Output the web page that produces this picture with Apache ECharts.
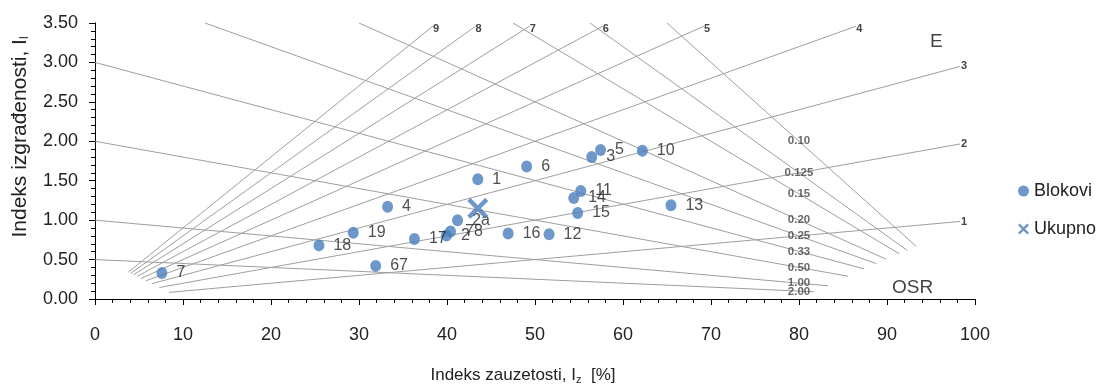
<!DOCTYPE html>
<html>
<head>
<meta charset="utf-8">
<script src="https://cdn.jsdelivr.net/npm/echarts@6/dist/echarts.min.js"></script>
<style>html,body{margin:0;padding:0;background:#fff}#c{width:1100px;height:385px}</style>
</head>
<body>
<div id="c"></div>
<script>
// ---- data ----
var blockNames = ['1','6','3','5','10','11','14','15','13','4','2a','2','78','17','16','12','19','18','67','7'];
var blockX = [43.5, 49.05, 56.45, 57.45, 62.2, 55.2, 54.4, 54.85, 65.45, 33.25, 41.2, 39.94, 40.4, 36.3, 46.95, 51.6, 29.35, 25.45, 31.9, 7.6];
var blockY = [1.52, 1.68, 1.80, 1.89, 1.88, 1.37, 1.28, 1.09, 1.19, 1.17, 1.00, 0.805, 0.855, 0.76, 0.83, 0.82, 0.84, 0.68, 0.42, 0.33];
var totalX = [43.5];
var totalY = [1.15];

// floor-count reference lines (labels 1..9): start and end points
var floorLabels = ['1','2','3','4','5','6','7','8','9'];
var floorStart = [[8.4,0.084],[7.3,0.146],[6.45,0.194],[5.8,0.232],[5.2,0.26],[4.8,0.288],[4.4,0.308],[4.05,0.324],[3.8,0.342]];
var floorEnd = [[98.3,0.983],[98.3,1.966],[98.3,2.949],[86.5,3.46],[69.2,3.46],[57.7,3.46],[49.4,3.46],[43.25,3.46],[38.4,3.46]];

// OSR reference lines: start and end points, label positions
var osrLabels = ['0.10','0.125','0.15','0.20','0.25','0.33','0.50','1.00','2.00'];
var osrStart = [[65,3.5],[56.25,3.5],[47.5,3.5],[30,3.5],[12.5,3.5],[0,3.0],[0,2.0],[0,1.0],[0,0.5]];
var osrEnd = [[93.3,0.67],[92.3,0.616],[91.4,0.573],[89.9,0.505],[88.8,0.448],[87.4,0.382],[85.6,0.288],[83.3,0.167],[81.7,0.092]];
var osrLabelX = [80,80,80,80,80,80,80,80,80];
var osrLabelY = [2.0,1.6,1.33,1.0,0.8,0.6,0.4,0.2,0.085];

// region annotations
var noteTexts = ['E','OSR'];
var noteX = [95.6, 92.9];
var noteY = [3.26, 0.14];

var xTicks = {min:0, max:100, interval:10};
var yTicks = {min:0, max:3.5, interval:0.5};

// ---- chart ----
var BLUE = '#4a7ebb';
var LINE = '#9e9e9e';
var FONT = 'Liberation Sans, Arial, sans-serif';
var xPath = 'path://M0,1.5L1.5,0L5,3.5L8.5,0L10,1.5L6.5,5L10,8.5L8.5,10L5,6.5L1.5,10L0,8.5L3.5,5Z';

var series = [];
floorLabels.forEach(function(lab, i){
  series.push({
    type:'line', silent:true, symbol:'none', z:1,
    data:[floorStart[i], floorEnd[i]],
    lineStyle:{color:LINE, width:1},
    endLabel:{show:true, formatter:lab, fontSize:11, fontWeight:'bold', color:'#444', fontFamily:FONT,
      distance:1, offset: i < 3 ? [0,0] : [-1,3]}
  });
});
osrLabels.forEach(function(lab, i){
  series.push({
    type:'line', silent:true, symbol:'none', z:1,
    data:[osrStart[i], osrEnd[i]],
    lineStyle:{color:LINE, width:1}
  });
});
series.push({
  type:'scatter', silent:true, symbolSize:1, z:3,
  itemStyle:{color:'rgba(0,0,0,0)'},
  data: osrLabels.map(function(l,i){ return [osrLabelX[i], osrLabelY[i], l]; }),
  label:{show:true, position:'inside', formatter:function(p){return p.value[2];},
    fontSize:11.5, fontWeight:'bold', color:'#444', fontFamily:FONT}
});
series.push({
  type:'scatter', silent:true, symbolSize:1, z:3,
  itemStyle:{color:'rgba(0,0,0,0)'},
  data: noteTexts.map(function(t,i){ return [noteX[i], noteY[i], t]; }),
  label:{show:true, position:'inside', formatter:function(p){return p.value[2];},
    fontSize:19, color:'#111', fontFamily:FONT}
});
series.push({
  name:'Blokovi', type:'scatter', z:5, symbol:'circle', symbolSize:[11,12],
  itemStyle:{color:BLUE},
  data: blockNames.map(function(n,i){ return [blockX[i], blockY[i], n]; }),
  label:{show:true, position:'right', distance:9, formatter:function(p){return p.value[2];},
    fontSize:16, color:'#222', fontFamily:FONT}
});
series.push({
  name:'Ukupno', type:'scatter', z:6, symbol:xPath, symbolSize:21,
  itemStyle:{color:BLUE},
  data: totalX.map(function(x,i){ return [x, totalY[i]]; })
});

var chart = echarts.init(document.getElementById('c'), null, {renderer:'canvas'});
chart.setOption({
  animation:false,
  textStyle:{fontFamily:FONT},
  grid:{left:95, right:125, top:23, bottom:86, containLabel:false, outerBoundsMode:'none'},
  legend:{
    orient:'vertical', left:1013, top:177, itemGap:20, itemWidth:11, itemHeight:11,
    textStyle:{fontSize:18, color:'#222', fontFamily:FONT},
    data:[{name:'Blokovi', icon:'circle'}, {name:'Ukupno', icon:xPath}]
  },
  xAxis:{
    type:'value', min:xTicks.min, max:xTicks.max, interval:xTicks.interval,
    name:'Indeks zauzetosti, I{sub|z}  [%]', nameLocation:'middle', nameGap:66,
    nameTextStyle:{fontSize:17, color:'#222', fontFamily:FONT, padding:[0,24,0,0],
      rich:{sub:{fontSize:11, color:'#222', padding:[9,0,0,0], fontFamily:FONT}}},
    axisLine:{lineStyle:{color:'#000', width:1}},
    axisTick:{length:6, lineStyle:{color:'#000'}},
    minorTick:{show:true, splitNumber:5, length:4, lineStyle:{color:'#000'}},
    splitLine:{show:false},
    axisLabel:{fontSize:18, color:'#222', margin:27, fontFamily:FONT}
  },
  yAxis:{
    type:'value', min:yTicks.min, max:yTicks.max, interval:yTicks.interval,
    name:'Indeks izgrađenosti, I{sub|l}', nameLocation:'middle', nameGap:64,
    nameTextStyle:{fontSize:21, color:'#222', fontFamily:FONT, padding:[0,0,0,48],
      rich:{sub:{fontSize:12, color:'#222', padding:[10,0,0,0], fontFamily:FONT}}},
    axisLine:{show:true, lineStyle:{color:'#000', width:1}},
    axisTick:{show:true, length:6, lineStyle:{color:'#000'}},
    minorTick:{show:true, splitNumber:5, length:4, lineStyle:{color:'#000'}},
    splitLine:{show:false},
    axisLabel:{fontSize:18, color:'#222', margin:17, fontFamily:FONT,
      formatter:function(v){return v.toFixed(2);}}
  },
  series:series
});
</script>
</body>
</html>
